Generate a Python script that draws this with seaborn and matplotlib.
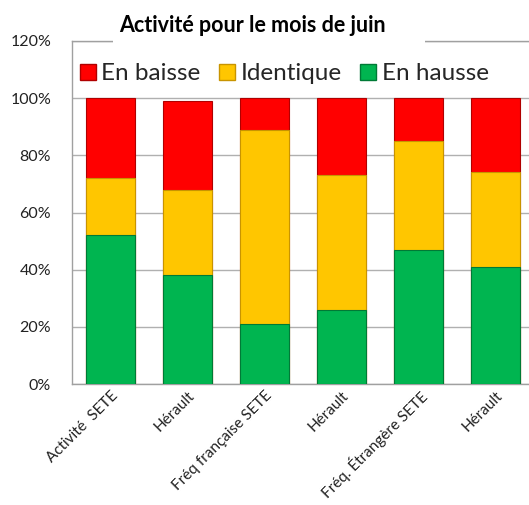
import matplotlib
matplotlib.use("Agg")
import matplotlib.pyplot as plt
import matplotlib.transforms as mtransforms
from matplotlib.lines import Line2D
from matplotlib.patches import Rectangle
import pandas as pd
import seaborn as sns

categories = ["Activité  SETE", "Hérault", "Fréq française SETE", "Hérault",
              "Fréq. Étrangère SETE", "Hérault"]
en_hausse = [52, 38, 21, 26, 47, 41]
identique = [20, 30, 68, 47, 38, 33]
en_baisse = [28, 31, 11, 27, 15, 26]

series = ["En baisse", "Identique", "En hausse"]
colors = {"En baisse": "#FF0000", "Identique": "#FFC600", "En hausse": "#00B550"}
edges = {"En baisse": "#B00000", "Identique": "#C89400", "En hausse": "#007A36"}

sns.set_style("white")
plt.rcParams["font.family"] = ["Lato", "DejaVu Sans"]

# cumulative heights, drawn from the tallest down so the stack shows
pos = [str(i) for i in range(len(categories))]
rows = []
for i, p in enumerate(pos):
    g = en_hausse[i]
    y = g + identique[i]
    r = y + en_baisse[i]
    rows.append({"pos": p, "layer": "En baisse", "cum": r})
    rows.append({"pos": p, "layer": "Identique", "cum": y})
    rows.append({"pos": p, "layer": "En hausse", "cum": g})
df = pd.DataFrame(rows)

fig = plt.figure(figsize=(5.29, 5.05), dpi=100)
ax = fig.add_axes([72 / 529, 121 / 505, 462 / 529, 343 / 505])

for layer in series:
    sub = df[df["layer"] == layer]
    sns.barplot(data=sub, x="pos", y="cum", order=pos, color=colors[layer],
                width=0.64, edgecolor=edges[layer], linewidth=0.8,
                saturation=1, ax=ax, zorder=3)

ax.set_ylim(0, 120)
ax.set_yticks(range(0, 121, 20))
ax.set_yticklabels([f"{v}%" for v in range(0, 121, 20)], fontsize=11.5,
                   color="#222222")
ax.set_xticks(range(len(categories)))
ax.set_xticklabels(categories, rotation=45, ha="right", rotation_mode="anchor",
                   fontsize=11, color="#222222")
shift = mtransforms.ScaledTranslation(-4 / 100, 0, fig.dpi_scale_trans)
for lbl in ax.get_xticklabels():
    lbl.set_transform(lbl.get_transform() + shift)
ax.tick_params(axis="y", length=0, pad=15)
ax.tick_params(axis="x", length=0, pad=3)
ax.set_xlabel("")
ax.set_ylabel("")
ax.yaxis.grid(True, color="#B0B0B0", linewidth=1)
ax.set_axisbelow(True)
for s in ["left", "bottom", "top"]:
    ax.spines[s].set_color("#A0A0A0")
    ax.spines[s].set_linewidth(1)
ax.spines["right"].set_visible(False)

handles = [Line2D([], [], marker="s", linestyle="", markersize=11,
                  markerfacecolor=colors[s], markeredgecolor=edges[s],
                  label=s) for s in series]
ax.legend(handles=handles, loc="center", bbox_to_anchor=(0.455, 0.905),
          ncol=3, frameon=False, fontsize=17.5, handletextpad=0.05,
          columnspacing=0.6, handlelength=1.0)

# white box of the title, hiding the top border behind it
fig.patches.append(Rectangle((113 / 529, 1 - 50 / 505), 312 / 529, 20 / 505,
                             transform=fig.transFigure, facecolor="white",
                             edgecolor="none", zorder=5))
fig.text(0.478, 0.95, "Activité pour le mois de juin", ha="center",
         va="center", fontsize=15.5, fontweight="bold", color="black",
         zorder=6)

fig.savefig("out.png", dpi=100)
